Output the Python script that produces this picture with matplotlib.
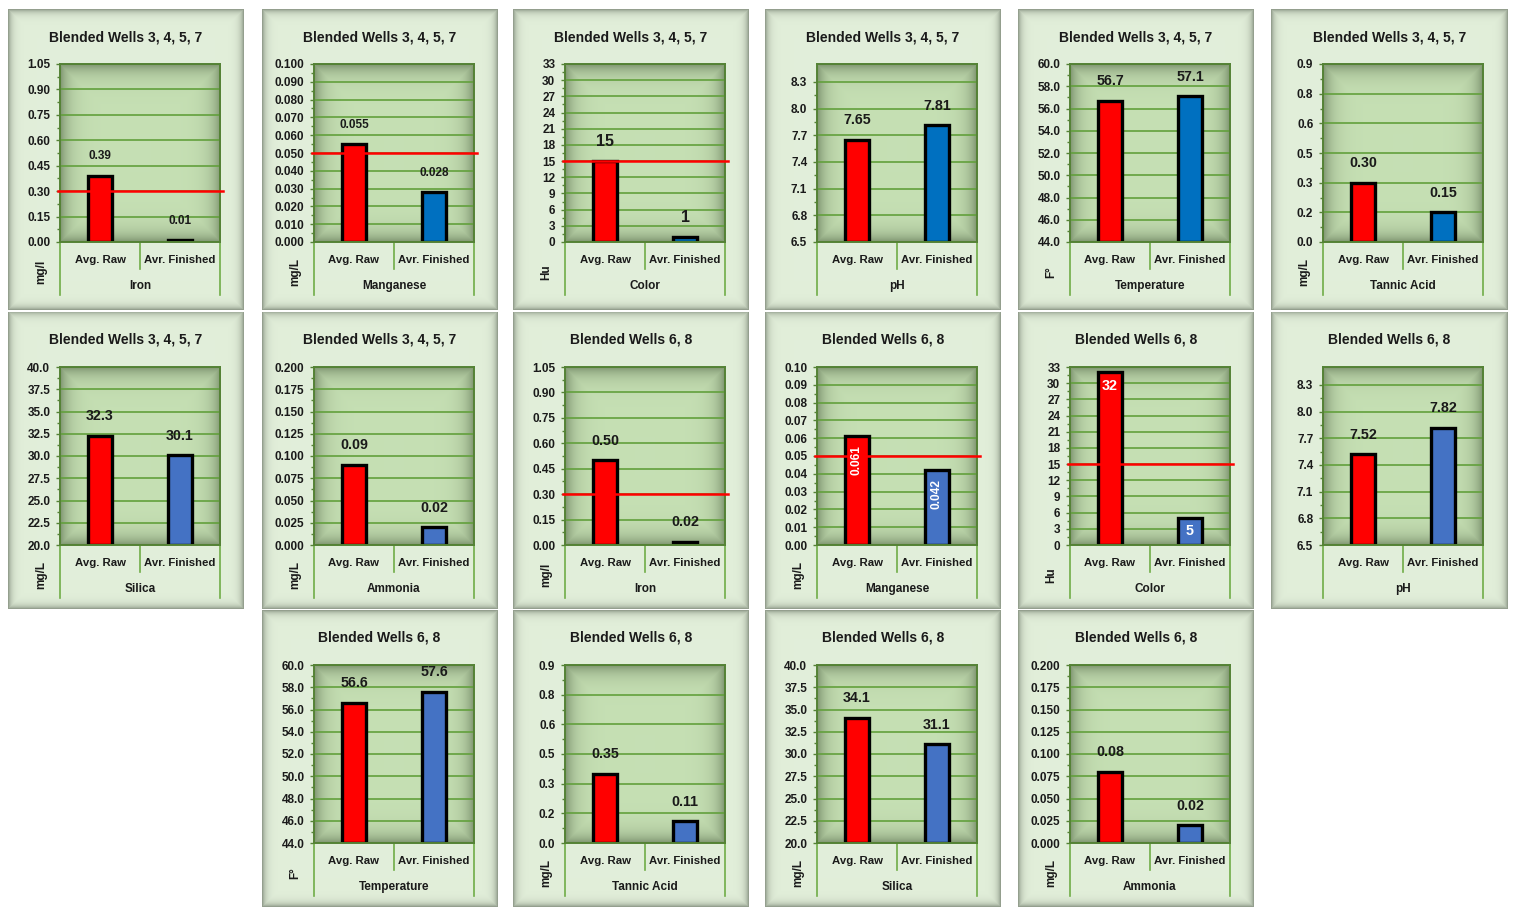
import numpy as np
import matplotlib
matplotlib.use('Agg')
import matplotlib.pyplot as plt
import matplotlib.transforms as mtransforms

plt.rcParams['font.family'] = ['Liberation Sans', 'DejaVu Sans']
plt.rcParams['font.weight'] = 'bold'

# ---- data ----
categories = ['Avg. Raw', 'Avr. Finished']
titles = ['Blended Wells 3, 4, 5, 7'] * 8 + ['Blended Wells 6, 8'] * 8
params = ['Iron', 'Manganese', 'Color', 'pH', 'Temperature', 'Tannic Acid', 'Silica', 'Ammonia'] * 2
units = ['mg/l', 'mg/L', 'Hu', '', 'F°', 'mg/L', 'mg/L', 'mg/L',
         'mg/l', 'mg/L', 'Hu', '', 'F°', 'mg/L', 'mg/L', 'mg/L']

raw_vals = [0.39, 0.055, 15, 7.65, 56.7, 0.30, 32.3, 0.09,
            0.50, 0.061, 32, 7.52, 56.6, 0.35, 34.1, 0.08]
fin_vals = [0.01, 0.028, 1, 7.81, 57.1, 0.15, 30.1, 0.02,
            0.02, 0.042, 5, 7.82, 57.6, 0.11, 31.1, 0.02]
raw_text = ['0.39', '0.055', '15', '7.65', '56.7', '0.30', '32.3', '0.09',
            '0.50', '0.061', '32', '7.52', '56.6', '0.35', '34.1', '0.08']
fin_text = ['0.01', '0.028', '1', '7.81', '57.1', '0.15', '30.1', '0.02',
            '0.02', '0.042', '5', '7.82', '57.6', '0.11', '31.1', '0.02']
limits = [0.3, 0.05, 15, None, None, None, None, None,
          0.3, 0.05, 15, None, None, None, None, None]

# y axis per parameter: min, max, step
y_min = [0, 0, 0, 6.5, 44, 0, 20, 0] * 2
y_max = [1.05, 0.10, 33, 8.5, 60, 0.9, 40, 0.2] * 2
y_step = [0.15, 0.01, 3, 0.3, 2, 0.15, 2.5, 0.025] * 2
y_fmt = ['{:.2f}', '{:.3f}', '{:.0f}', '{:.1f}', '{:.1f}', None, '{:.1f}', '{:.3f}',
         '{:.2f}', '{:.2f}', '{:.0f}', '{:.1f}', '{:.1f}', None, '{:.1f}', '{:.3f}']
tannic_ticks = ['0.0', '0.2', '0.3', '0.5', '0.6', '0.8', '0.9']

# ---- style ----
label_size = [8.5, 8.5, 11.5, 10.3, 10.3, 10.3, 10.3, 10.3,
              10.3, 8.6, 10.4, 10.3, 10.3, 10.3, 10.3, 10.3]
label_mode = ['above'] * 9 + ['inside_rot', 'inside'] + ['above'] * 5
red = '#FF0000'
blues = ['#0070C0'] * 6 + ['#4472C4'] * 10
ink = '#1a1a1a'

W, H = 1519, 909
col_x = [(8, 244), (262, 497), (513, 749), (765, 1001), (1018, 1254), (1271, 1508)]
row_y = [(9, 310), (312, 609), (610, 907)]
slots = [(0, c) for c in range(6)] + [(1, c) for c in range(6)] + [(2, c) for c in range(1, 5)]


def vignette(w, h, base, dark, strength, width):
    yy, xx = np.mgrid[0:h, 0:w] + 0.5
    d = np.minimum.reduce([xx, w - xx, yy, h - yy])
    s = (strength * np.exp(-d / width))[..., None]
    return np.array(base) * (1 - s) + np.array(dark) * s


fig = plt.figure(figsize=(W / 100, H / 100), dpi=100)
fig.patch.set_facecolor('white')

for i in range(16):
    r, c = slots[i]
    px0, px1 = col_x[c]
    py0, py1 = row_y[r]
    pw, ph = px1 - px0, py1 - py0

    # chart area with shadowed border
    bg = fig.add_axes([px0 / W, 1 - py1 / H, pw / W, ph / H])
    bg.imshow(vignette(pw, ph, (0.886, 0.937, 0.855), (0.42, 0.46, 0.40), 0.75, 3.5),
              extent=[0, 1, 0, 1], aspect='auto', interpolation='bilinear')
    bg.set_xlim(0, 1)
    bg.set_ylim(0, 1)
    bg.set_axis_off()

    fig.text((px0 + px1) / 2 / W, 1 - (py0 + 28) / H, titles[i],
             ha='center', va='center', fontsize=10, fontweight='bold', color=ink)

    # plot area
    ax0, ax1 = px0 + 52, px0 + 212
    ay0, ay1 = py0 + 55, py0 + 233
    aw, ah = ax1 - ax0, ay1 - ay0
    ax = fig.add_axes([ax0 / W, 1 - ay1 / H, aw / W, ah / H])
    lo, hi, st = y_min[i], y_max[i], y_step[i]
    ax.imshow(vignette(aw, ah, (0.776, 0.878, 0.706), (0.36, 0.44, 0.31), 0.7, 9),
              extent=[0, 2, lo, hi], aspect='auto', interpolation='bilinear', zorder=0)
    ax.set_xlim(0, 2)
    ax.set_ylim(lo, hi)

    ticks = np.arange(lo, hi + st * 0.01, st)
    ax.set_yticks(ticks)
    if y_fmt[i] is None:
        ax.set_yticklabels(tannic_ticks)
    else:
        ax.set_yticklabels([y_fmt[i].format(t) for t in ticks])
    ax.set_yticks(ticks[:-1] + st / 2, minor=True)
    ax.set_xticks([])
    ax.yaxis.grid(True, color='#62A03C', lw=1.2)
    ax.set_axisbelow(True)
    for sp in ax.spines.values():
        sp.set_color('#548235')
        sp.set_linewidth(1.4)
    ax.tick_params(axis='y', which='major', length=3, width=1, color='#548235',
                   pad=4, labelsize=8.5, labelcolor=ink)
    ax.tick_params(axis='y', which='minor', length=2, width=1, color='#548235')

    vals = [raw_vals[i], fin_vals[i]]
    texts = [raw_text[i], fin_text[i]]
    ax.bar([0.5, 1.5], [v - lo for v in vals], bottom=lo, width=0.3,
           color=[red, blues[i]], edgecolor='black', linewidth=2.4, zorder=2)

    if limits[i] is not None:
        ax.axhline(limits[i], xmin=-0.01, xmax=1.02, color=red, lw=1.8,
                   clip_on=False, zorder=3)

    for x, v, t in zip([0.5, 1.5], vals, texts):
        if label_mode[i] == 'above':
            ax.annotate(t, (x, v), xytext=(0, 14), textcoords='offset points',
                        ha='center', va='center', fontsize=label_size[i],
                        fontweight='bold', color=ink, zorder=4)
        elif label_mode[i] == 'inside_rot':
            ax.annotate(t, (x, v), xytext=(0, -6), textcoords='offset points',
                        ha='center', va='top', rotation=90, fontsize=label_size[i],
                        fontweight='bold', color='white', zorder=4)
        else:
            ax.annotate(t, (x, v), xytext=(0, -9.5), textcoords='offset points',
                        ha='center', va='center', fontsize=label_size[i],
                        fontweight='bold', color='white', zorder=4)

    # category axis below plot
    blend = mtransforms.blended_transform_factory(ax.transData, ax.transAxes)
    for xv, depth in [(0, 53), (1, 27), (2, 53)]:
        ax.plot([xv, xv], [0, -depth / ah], transform=blend, color='#70AD47',
                lw=1.2, clip_on=False)
    for x, cat in zip([0.5, 1.5], categories):
        ax.text(x, -18 / ah, cat, transform=blend, ha='center', va='center',
                fontsize=8.2, fontweight='bold', color=ink)
    ax.text(1.0, -44 / ah, params[i], transform=blend, ha='center', va='center',
            fontsize=8.5, fontweight='bold', color=ink)
    if units[i]:
        ax.text(-19 / aw, -30 / ah, units[i], transform=ax.transAxes, rotation=90,
                ha='center', va='center', fontsize=8.5, fontweight='bold', color=ink)

fig.savefig('out.png', dpi=100)
